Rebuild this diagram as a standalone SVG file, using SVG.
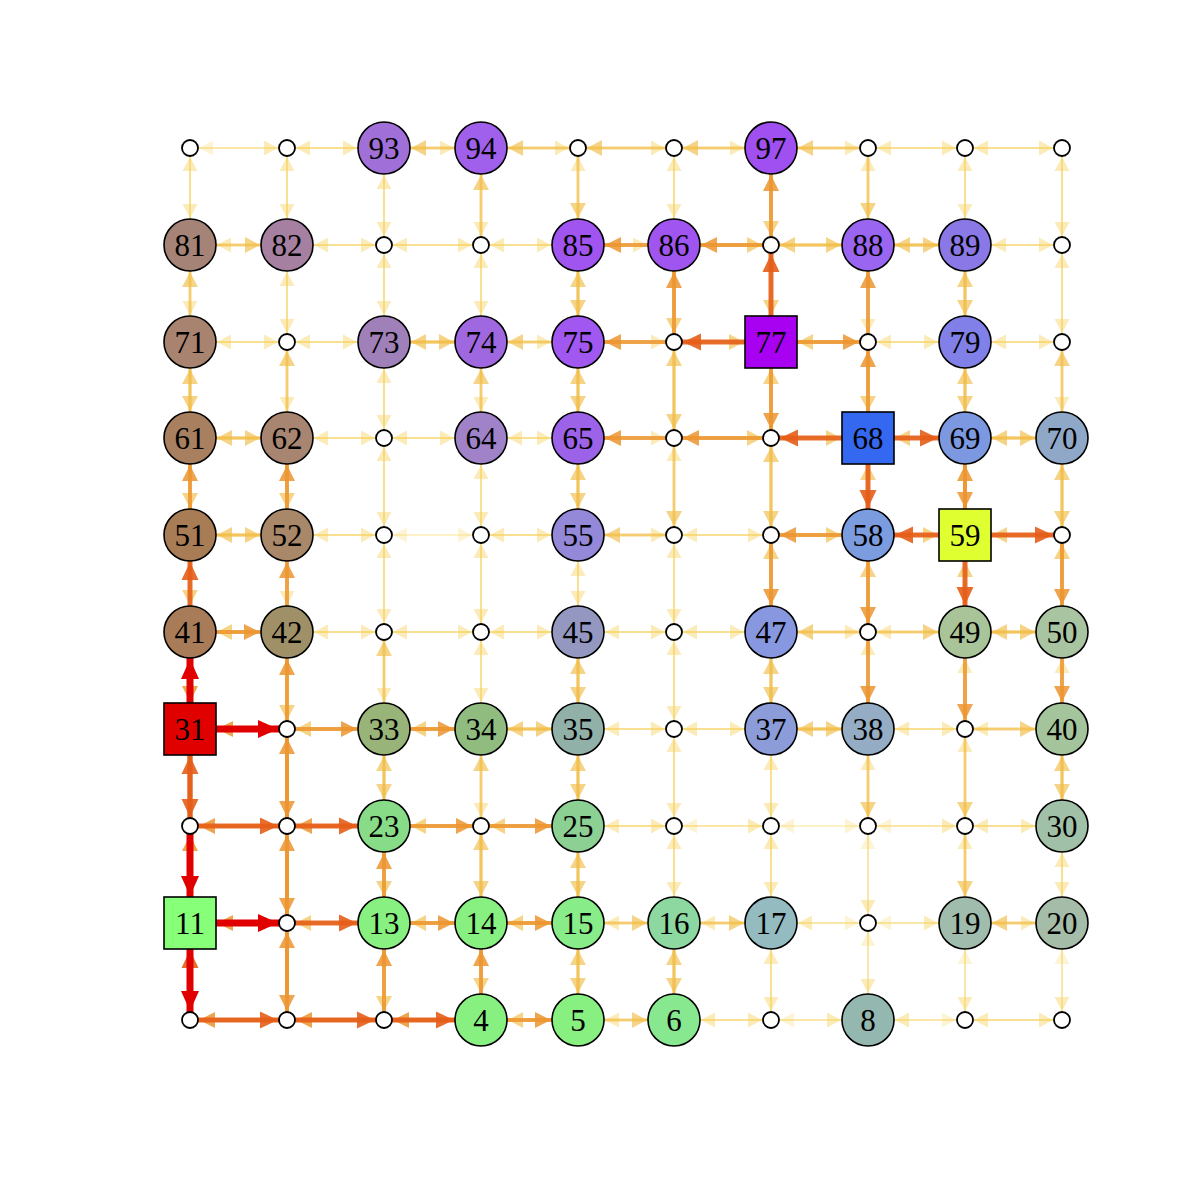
<svg xmlns="http://www.w3.org/2000/svg" width="1196" height="1190" viewBox="0 0 1196 1190">
<style>
path{fill:none}
.e0b,.e0s{stroke:#f8dc74;stroke-opacity:.3;stroke-width:1.5}
.e1b,.e1s{stroke:#f6d262;stroke-opacity:.45;stroke-width:2}
.e2b,.e2s{stroke:#f1bd46;stroke-opacity:.65;stroke-width:3}
.e3b,.e3s{stroke:#ec9530;stroke-opacity:.85;stroke-width:4}
.e4b,.e4s{stroke:#e45e1a;stroke-opacity:.9;stroke-width:5}
.e5b,.e5s{stroke:#e00000;stroke-width:7}
.e0b{marker-end:url(#m0b)}.e0s{marker-end:url(#m0s)}
.e1b{marker-end:url(#m1b)}.e1s{marker-end:url(#m1s)}
.e2b{marker-end:url(#m2b)}.e2s{marker-end:url(#m2s)}
.e3b{marker-end:url(#m3b)}.e3s{marker-end:url(#m3s)}
.e4b{marker-end:url(#m4b)}.e4s{marker-end:url(#m4s)}
.e5b{marker-end:url(#m5b)}.e5s{marker-end:url(#m5s)}
.big{stroke:#000;stroke-width:1.6}
.small{fill:#fff;stroke:#000;stroke-width:1.8}
text{font-family:"Liberation Serif","Times New Roman",serif;font-size:31px;text-anchor:middle;fill:#000}
</style>
<defs>
<marker id="m0b" markerUnits="userSpaceOnUse" orient="auto" refX="27" refY="0" markerWidth="40" markerHeight="40" overflow="visible"><path d="M-14,-7.5L0,0L-14,7.5z" style="fill:#f8dc74;fill-opacity:.3"/></marker>
<marker id="m0s" markerUnits="userSpaceOnUse" orient="auto" refX="9" refY="0" markerWidth="40" markerHeight="40" overflow="visible"><path d="M-14,-7.5L0,0L-14,7.5z" style="fill:#f8dc74;fill-opacity:.3"/></marker>
<marker id="m1b" markerUnits="userSpaceOnUse" orient="auto" refX="27" refY="0" markerWidth="40" markerHeight="40" overflow="visible"><path d="M-14,-7.5L0,0L-14,7.5z" style="fill:#f6d262;fill-opacity:.45"/></marker>
<marker id="m1s" markerUnits="userSpaceOnUse" orient="auto" refX="9" refY="0" markerWidth="40" markerHeight="40" overflow="visible"><path d="M-14,-7.5L0,0L-14,7.5z" style="fill:#f6d262;fill-opacity:.45"/></marker>
<marker id="m2b" markerUnits="userSpaceOnUse" orient="auto" refX="27" refY="0" markerWidth="40" markerHeight="40" overflow="visible"><path d="M-15,-8L0,0L-15,8z" style="fill:#f1bd46;fill-opacity:.65"/></marker>
<marker id="m2s" markerUnits="userSpaceOnUse" orient="auto" refX="9" refY="0" markerWidth="40" markerHeight="40" overflow="visible"><path d="M-15,-8L0,0L-15,8z" style="fill:#f1bd46;fill-opacity:.65"/></marker>
<marker id="m3b" markerUnits="userSpaceOnUse" orient="auto" refX="27" refY="0" markerWidth="40" markerHeight="40" overflow="visible"><path d="M-16,-8L0,0L-16,8z" style="fill:#ec9530;fill-opacity:.85"/></marker>
<marker id="m3s" markerUnits="userSpaceOnUse" orient="auto" refX="9" refY="0" markerWidth="40" markerHeight="40" overflow="visible"><path d="M-16,-8L0,0L-16,8z" style="fill:#ec9530;fill-opacity:.85"/></marker>
<marker id="m4b" markerUnits="userSpaceOnUse" orient="auto" refX="27" refY="0" markerWidth="40" markerHeight="40" overflow="visible"><path d="M-18,-8.5L0,0L-18,8.5z" style="fill:#e45e1a;fill-opacity:.9"/></marker>
<marker id="m4s" markerUnits="userSpaceOnUse" orient="auto" refX="9" refY="0" markerWidth="40" markerHeight="40" overflow="visible"><path d="M-18,-8.5L0,0L-18,8.5z" style="fill:#e45e1a;fill-opacity:.9"/></marker>
<marker id="m5b" markerUnits="userSpaceOnUse" orient="auto" refX="27" refY="0" markerWidth="40" markerHeight="40" overflow="visible"><path d="M-20,-9L0,0L-20,9z" style="fill:#e00000"/></marker>
<marker id="m5s" markerUnits="userSpaceOnUse" orient="auto" refX="9" refY="0" markerWidth="40" markerHeight="40" overflow="visible"><path d="M-20,-9L0,0L-20,9z" style="fill:#e00000"/></marker>
</defs>
<rect width="1196" height="1190" fill="#fff"/>
<g id="connectors">
<path d="M287 1020H190" class="e3s"/><path d="M190 1020H287" class="e4s"/>
<path d="M384 1020H287" class="e3s"/><path d="M287 1020H384" class="e4s"/>
<path d="M481 1020H384" class="e3s"/><path d="M384 1020H481" class="e4b"/>
<path d="M578 1020H481" class="e2b"/><path d="M481 1020H578" class="e3b"/>
<path d="M674 1020H578" class="e1b"/><path d="M578 1020H674" class="e2b"/>
<path d="M771 1020H674" class="e1b"/><path d="M674 1020H771" class="e1s"/>
<path d="M868 1020H771" class="e0s"/><path d="M771 1020H868" class="e1b"/>
<path d="M868 1020H965" class="e0s"/><path d="M965 1020H868" class="e1b"/>
<path d="M965 1020H1062" class="e1s"/><path d="M1062 1020H965" class="e1s"/>
<path d="M287 923H190" class="e3b"/><path d="M190 923H287" class="e5s"/>
<path d="M384 923H287" class="e2s"/><path d="M287 923H384" class="e4b"/>
<path d="M481 923H384" class="e2b"/><path d="M384 923H481" class="e3b"/>
<path d="M578 923H481" class="e2b"/><path d="M481 923H578" class="e3b"/>
<path d="M674 923H578" class="e1b"/><path d="M578 923H674" class="e2b"/>
<path d="M771 923H674" class="e1b"/><path d="M674 923H771" class="e2b"/>
<path d="M771 923H868" class="e0s"/><path d="M868 923H771" class="e1b"/>
<path d="M965 923H868" class="e0s"/><path d="M868 923H965" class="e1b"/>
<path d="M965 923H1062" class="e1b"/><path d="M1062 923H965" class="e2b"/>
<path d="M287 826H190" class="e3s"/><path d="M190 826H287" class="e4s"/>
<path d="M384 826H287" class="e3s"/><path d="M287 826H384" class="e4b"/>
<path d="M481 826H384" class="e2b"/><path d="M384 826H481" class="e3s"/>
<path d="M578 826H481" class="e2s"/><path d="M481 826H578" class="e3b"/>
<path d="M674 826H578" class="e1b"/><path d="M578 826H674" class="e1s"/>
<path d="M771 826H674" class="e0s"/><path d="M674 826H771" class="e1s"/>
<path d="M771 826H868" class="e0s"/><path d="M868 826H771" class="e0s"/>
<path d="M965 826H868" class="e0s"/><path d="M868 826H965" class="e1s"/>
<path d="M1062 826H965" class="e1s"/><path d="M965 826H1062" class="e1b"/>
<path d="M287 729H190" class="e3b"/><path d="M190 729H287" class="e5s"/>
<path d="M384 729H287" class="e2s"/><path d="M287 729H384" class="e3b"/>
<path d="M481 729H384" class="e2b"/><path d="M384 729H481" class="e3b"/>
<path d="M578 729H481" class="e2b"/><path d="M481 729H578" class="e2b"/>
<path d="M674 729H578" class="e1b"/><path d="M578 729H674" class="e1s"/>
<path d="M771 729H674" class="e1s"/><path d="M674 729H771" class="e1b"/>
<path d="M868 729H771" class="e2b"/><path d="M771 729H868" class="e2b"/>
<path d="M965 729H868" class="e1b"/><path d="M868 729H965" class="e1s"/>
<path d="M1062 729H965" class="e1s"/><path d="M965 729H1062" class="e2b"/>
<path d="M287 632H190" class="e2b"/><path d="M190 632H287" class="e3b"/>
<path d="M384 632H287" class="e1b"/><path d="M287 632H384" class="e1s"/>
<path d="M481 632H384" class="e1s"/><path d="M384 632H481" class="e1s"/>
<path d="M578 632H481" class="e1s"/><path d="M481 632H578" class="e1b"/>
<path d="M674 632H578" class="e1b"/><path d="M578 632H674" class="e1s"/>
<path d="M771 632H674" class="e1s"/><path d="M674 632H771" class="e1b"/>
<path d="M771 632H868" class="e1s"/><path d="M868 632H771" class="e2b"/>
<path d="M965 632H868" class="e1s"/><path d="M868 632H965" class="e2b"/>
<path d="M1062 632H965" class="e2b"/><path d="M965 632H1062" class="e2b"/>
<path d="M287 535H190" class="e2b"/><path d="M190 535H287" class="e2b"/>
<path d="M384 535H287" class="e1b"/><path d="M287 535H384" class="e1s"/>
<path d="M384 535H481" class="e0s"/><path d="M481 535H384" class="e0s"/>
<path d="M578 535H481" class="e1s"/><path d="M481 535H578" class="e1b"/>
<path d="M578 535H674" class="e1s"/><path d="M674 535H578" class="e2b"/>
<path d="M674 535H771" class="e1s"/><path d="M771 535H674" class="e1s"/>
<path d="M771 535H868" class="e2b"/><path d="M868 535H771" class="e3s"/>
<path d="M868 535H965" class="e2b"/><path d="M965 535H868" class="e4b"/>
<path d="M1062 535H965" class="e2b"/><path d="M965 535H1062" class="e4s"/>
<path d="M287 438H190" class="e2b"/><path d="M190 438H287" class="e2b"/>
<path d="M384 438H287" class="e1b"/><path d="M287 438H384" class="e1s"/>
<path d="M481 438H384" class="e1s"/><path d="M384 438H481" class="e1b"/>
<path d="M578 438H481" class="e1b"/><path d="M481 438H578" class="e1b"/>
<path d="M578 438H674" class="e1s"/><path d="M674 438H578" class="e3b"/>
<path d="M674 438H771" class="e2s"/><path d="M771 438H674" class="e3s"/>
<path d="M771 438H868" class="e2b"/><path d="M868 438H771" class="e4s"/>
<path d="M965 438H868" class="e2b"/><path d="M868 438H965" class="e4b"/>
<path d="M1062 438H965" class="e2b"/><path d="M965 438H1062" class="e2b"/>
<path d="M287 342H190" class="e1b"/><path d="M190 342H287" class="e1s"/>
<path d="M384 342H287" class="e1s"/><path d="M287 342H384" class="e1b"/>
<path d="M481 342H384" class="e2b"/><path d="M384 342H481" class="e2b"/>
<path d="M481 342H578" class="e1b"/><path d="M578 342H481" class="e2b"/>
<path d="M578 342H674" class="e1s"/><path d="M674 342H578" class="e3b"/>
<path d="M674 342H771" class="e2b"/><path d="M771 342H674" class="e4s"/>
<path d="M868 342H771" class="e2b"/><path d="M771 342H868" class="e3s"/>
<path d="M965 342H868" class="e1s"/><path d="M868 342H965" class="e1b"/>
<path d="M1062 342H965" class="e1b"/><path d="M965 342H1062" class="e1s"/>
<path d="M287 245H190" class="e1b"/><path d="M190 245H287" class="e2b"/>
<path d="M384 245H287" class="e1b"/><path d="M287 245H384" class="e1s"/>
<path d="M384 245H481" class="e1s"/><path d="M481 245H384" class="e1s"/>
<path d="M578 245H481" class="e1s"/><path d="M481 245H578" class="e1b"/>
<path d="M578 245H674" class="e1b"/><path d="M674 245H578" class="e3b"/>
<path d="M674 245H771" class="e2s"/><path d="M771 245H674" class="e3b"/>
<path d="M868 245H771" class="e2s"/><path d="M771 245H868" class="e2b"/>
<path d="M965 245H868" class="e2b"/><path d="M868 245H965" class="e2b"/>
<path d="M1062 245H965" class="e1b"/><path d="M965 245H1062" class="e1s"/>
<path d="M287 148H190" class="e0s"/><path d="M190 148H287" class="e1s"/>
<path d="M384 148H287" class="e1s"/><path d="M287 148H384" class="e1b"/>
<path d="M384 148H481" class="e1b"/><path d="M481 148H384" class="e2b"/>
<path d="M481 148H578" class="e1s"/><path d="M578 148H481" class="e2b"/>
<path d="M578 148H674" class="e1s"/><path d="M674 148H578" class="e2s"/>
<path d="M674 148H771" class="e1b"/><path d="M771 148H674" class="e2s"/>
<path d="M771 148H868" class="e1s"/><path d="M868 148H771" class="e2b"/>
<path d="M965 148H868" class="e1s"/><path d="M868 148H965" class="e1s"/>
<path d="M1062 148H965" class="e1s"/><path d="M965 148H1062" class="e1s"/>
<path d="M190 1020V923" class="e4b"/><path d="M190 923V1020" class="e5s"/>
<path d="M190 923V826" class="e3s"/><path d="M190 826V923" class="e5b"/>
<path d="M190 826V729" class="e4b"/><path d="M190 729V826" class="e4s"/>
<path d="M190 632V729" class="e3b"/><path d="M190 729V632" class="e5b"/>
<path d="M190 535V632" class="e2b"/><path d="M190 632V535" class="e4b"/>
<path d="M190 438V535" class="e2b"/><path d="M190 535V438" class="e3b"/>
<path d="M190 342V438" class="e2b"/><path d="M190 438V342" class="e2b"/>
<path d="M190 245V342" class="e1b"/><path d="M190 342V245" class="e2b"/>
<path d="M190 148V245" class="e1b"/><path d="M190 245V148" class="e1s"/>
<path d="M287 923V1020" class="e3s"/><path d="M287 1020V923" class="e3s"/>
<path d="M287 826V923" class="e3s"/><path d="M287 923V826" class="e3s"/>
<path d="M287 729V826" class="e3s"/><path d="M287 826V729" class="e3s"/>
<path d="M287 632V729" class="e2s"/><path d="M287 729V632" class="e3b"/>
<path d="M287 535V632" class="e1b"/><path d="M287 632V535" class="e3b"/>
<path d="M287 438V535" class="e2b"/><path d="M287 535V438" class="e3b"/>
<path d="M287 342V438" class="e1b"/><path d="M287 438V342" class="e2s"/>
<path d="M287 245V342" class="e1s"/><path d="M287 342V245" class="e1b"/>
<path d="M287 148V245" class="e1b"/><path d="M287 245V148" class="e1s"/>
<path d="M384 923V1020" class="e2s"/><path d="M384 1020V923" class="e3b"/>
<path d="M384 826V923" class="e2b"/><path d="M384 923V826" class="e3b"/>
<path d="M384 729V826" class="e2b"/><path d="M384 826V729" class="e2b"/>
<path d="M384 632V729" class="e1b"/><path d="M384 729V632" class="e2s"/>
<path d="M384 535V632" class="e1s"/><path d="M384 632V535" class="e1s"/>
<path d="M384 438V535" class="e1s"/><path d="M384 535V438" class="e1s"/>
<path d="M384 342V438" class="e1s"/><path d="M384 438V342" class="e1b"/>
<path d="M384 245V342" class="e1b"/><path d="M384 342V245" class="e1s"/>
<path d="M384 148V245" class="e1s"/><path d="M384 245V148" class="e1b"/>
<path d="M481 923V1020" class="e2b"/><path d="M481 1020V923" class="e3b"/>
<path d="M481 826V923" class="e2b"/><path d="M481 923V826" class="e2s"/>
<path d="M481 729V826" class="e1s"/><path d="M481 826V729" class="e2b"/>
<path d="M481 632V729" class="e1b"/><path d="M481 729V632" class="e1s"/>
<path d="M481 535V632" class="e1s"/><path d="M481 632V535" class="e1s"/>
<path d="M481 438V535" class="e1s"/><path d="M481 535V438" class="e1b"/>
<path d="M481 342V438" class="e1b"/><path d="M481 438V342" class="e2b"/>
<path d="M481 245V342" class="e1b"/><path d="M481 342V245" class="e1s"/>
<path d="M481 148V245" class="e1s"/><path d="M481 245V148" class="e2b"/>
<path d="M578 923V1020" class="e2b"/><path d="M578 1020V923" class="e2b"/>
<path d="M578 826V923" class="e2b"/><path d="M578 923V826" class="e2b"/>
<path d="M578 729V826" class="e2b"/><path d="M578 826V729" class="e2b"/>
<path d="M578 632V729" class="e2b"/><path d="M578 729V632" class="e2b"/>
<path d="M578 535V632" class="e1b"/><path d="M578 632V535" class="e1b"/>
<path d="M578 438V535" class="e2b"/><path d="M578 535V438" class="e2b"/>
<path d="M578 342V438" class="e2b"/><path d="M578 438V342" class="e2b"/>
<path d="M578 245V342" class="e2b"/><path d="M578 342V245" class="e2b"/>
<path d="M578 245V148" class="e1s"/><path d="M578 148V245" class="e2b"/>
<path d="M674 923V1020" class="e2b"/><path d="M674 1020V923" class="e2b"/>
<path d="M674 826V923" class="e1b"/><path d="M674 923V826" class="e1s"/>
<path d="M674 729V826" class="e1s"/><path d="M674 826V729" class="e1s"/>
<path d="M674 632V729" class="e1s"/><path d="M674 729V632" class="e1s"/>
<path d="M674 535V632" class="e1s"/><path d="M674 632V535" class="e1s"/>
<path d="M674 535V438" class="e1s"/><path d="M674 438V535" class="e2s"/>
<path d="M674 342V438" class="e2s"/><path d="M674 438V342" class="e2s"/>
<path d="M674 245V342" class="e2s"/><path d="M674 342V245" class="e3b"/>
<path d="M674 148V245" class="e1b"/><path d="M674 245V148" class="e1s"/>
<path d="M771 923V1020" class="e1s"/><path d="M771 1020V923" class="e1b"/>
<path d="M771 826V923" class="e1b"/><path d="M771 923V826" class="e1s"/>
<path d="M771 729V826" class="e1s"/><path d="M771 826V729" class="e1b"/>
<path d="M771 632V729" class="e2b"/><path d="M771 729V632" class="e2b"/>
<path d="M771 632V535" class="e2s"/><path d="M771 535V632" class="e3b"/>
<path d="M771 438V535" class="e2s"/><path d="M771 535V438" class="e2s"/>
<path d="M771 438V342" class="e2b"/><path d="M771 342V438" class="e3s"/>
<path d="M771 245V342" class="e2b"/><path d="M771 342V245" class="e4s"/>
<path d="M771 148V245" class="e2s"/><path d="M771 245V148" class="e3b"/>
<path d="M868 1020V923" class="e0s"/><path d="M868 923V1020" class="e1b"/>
<path d="M868 923V826" class="e0s"/><path d="M868 826V923" class="e1s"/>
<path d="M868 826V729" class="e1b"/><path d="M868 729V826" class="e2s"/>
<path d="M868 729V632" class="e1s"/><path d="M868 632V729" class="e3b"/>
<path d="M868 632V535" class="e2b"/><path d="M868 535V632" class="e3s"/>
<path d="M868 535V438" class="e2b"/><path d="M868 438V535" class="e4b"/>
<path d="M868 342V438" class="e2b"/><path d="M868 438V342" class="e3s"/>
<path d="M868 245V342" class="e1s"/><path d="M868 342V245" class="e3b"/>
<path d="M868 245V148" class="e1s"/><path d="M868 148V245" class="e2b"/>
<path d="M965 1020V923" class="e0b"/><path d="M965 923V1020" class="e1s"/>
<path d="M965 923V826" class="e1s"/><path d="M965 826V923" class="e2b"/>
<path d="M965 826V729" class="e1s"/><path d="M965 729V826" class="e2s"/>
<path d="M965 729V632" class="e1b"/><path d="M965 632V729" class="e3s"/>
<path d="M965 632V535" class="e2b"/><path d="M965 535V632" class="e4b"/>
<path d="M965 535V438" class="e3b"/><path d="M965 438V535" class="e3b"/>
<path d="M965 438V342" class="e2b"/><path d="M965 342V438" class="e2b"/>
<path d="M965 342V245" class="e2b"/><path d="M965 245V342" class="e2b"/>
<path d="M965 245V148" class="e1s"/><path d="M965 148V245" class="e1b"/>
<path d="M1062 1020V923" class="e0b"/><path d="M1062 923V1020" class="e1s"/>
<path d="M1062 923V826" class="e1b"/><path d="M1062 826V923" class="e1b"/>
<path d="M1062 826V729" class="e2b"/><path d="M1062 729V826" class="e2b"/>
<path d="M1062 729V632" class="e1b"/><path d="M1062 632V729" class="e3b"/>
<path d="M1062 632V535" class="e2s"/><path d="M1062 535V632" class="e3b"/>
<path d="M1062 535V438" class="e2b"/><path d="M1062 438V535" class="e2s"/>
<path d="M1062 342V438" class="e1b"/><path d="M1062 438V342" class="e2s"/>
<path d="M1062 342V245" class="e1s"/><path d="M1062 245V342" class="e1s"/>
<path d="M1062 245V148" class="e1s"/><path d="M1062 148V245" class="e1s"/>
</g>
<g id="n1"><circle cx="190" cy="1020" r="8" class="small"/></g>
<g id="n2"><circle cx="287" cy="1020" r="8" class="small"/></g>
<g id="n3"><circle cx="384" cy="1020" r="8" class="small"/></g>
<g id="n4"><circle cx="481" cy="1020" r="26" class="big" fill="#88f080"/><text x="481" y="1031">4</text></g>
<g id="n5"><circle cx="578" cy="1020" r="26" class="big" fill="#88f080"/><text x="578" y="1031">5</text></g>
<g id="n6"><circle cx="674" cy="1020" r="26" class="big" fill="#88e890"/><text x="674" y="1031">6</text></g>
<g id="n7"><circle cx="771" cy="1020" r="8" class="small"/></g>
<g id="n8"><circle cx="868" cy="1020" r="26" class="big" fill="#94b8b0"/><text x="868" y="1031">8</text></g>
<g id="n9"><circle cx="965" cy="1020" r="8" class="small"/></g>
<g id="n10"><circle cx="1062" cy="1020" r="8" class="small"/></g>
<g id="n11"><rect x="164" y="897" width="52" height="52" class="big" fill="#88ff78"/><text x="190" y="934">11</text></g>
<g id="n12"><circle cx="287" cy="923" r="8" class="small"/></g>
<g id="n13"><circle cx="384" cy="923" r="26" class="big" fill="#88f080"/><text x="384" y="934">13</text></g>
<g id="n14"><circle cx="481" cy="923" r="26" class="big" fill="#88f080"/><text x="481" y="934">14</text></g>
<g id="n15"><circle cx="578" cy="923" r="26" class="big" fill="#88ec88"/><text x="578" y="934">15</text></g>
<g id="n16"><circle cx="674" cy="923" r="26" class="big" fill="#8cd8a0"/><text x="674" y="934">16</text></g>
<g id="n17"><circle cx="771" cy="923" r="26" class="big" fill="#94bcc0"/><text x="771" y="934">17</text></g>
<g id="n18"><circle cx="868" cy="923" r="8" class="small"/></g>
<g id="n19"><circle cx="965" cy="923" r="26" class="big" fill="#a0bcac"/><text x="965" y="934">19</text></g>
<g id="n20"><circle cx="1062" cy="923" r="26" class="big" fill="#a4bca8"/><text x="1062" y="934">20</text></g>
<g id="n21"><circle cx="190" cy="826" r="8" class="small"/></g>
<g id="n22"><circle cx="287" cy="826" r="8" class="small"/></g>
<g id="n23"><circle cx="384" cy="826" r="26" class="big" fill="#88dc88"/><text x="384" y="837">23</text></g>
<g id="n24"><circle cx="481" cy="826" r="8" class="small"/></g>
<g id="n25"><circle cx="578" cy="826" r="26" class="big" fill="#8cd094"/><text x="578" y="837">25</text></g>
<g id="n26"><circle cx="674" cy="826" r="8" class="small"/></g>
<g id="n27"><circle cx="771" cy="826" r="8" class="small"/></g>
<g id="n28"><circle cx="868" cy="826" r="8" class="small"/></g>
<g id="n29"><circle cx="965" cy="826" r="8" class="small"/></g>
<g id="n30"><circle cx="1062" cy="826" r="26" class="big" fill="#a0c0a8"/><text x="1062" y="837">30</text></g>
<g id="n31"><rect x="164" y="703" width="52" height="52" class="big" fill="#e00000"/><text x="190" y="740">31</text></g>
<g id="n32"><circle cx="287" cy="729" r="8" class="small"/></g>
<g id="n33"><circle cx="384" cy="729" r="26" class="big" fill="#98b478"/><text x="384" y="740">33</text></g>
<g id="n34"><circle cx="481" cy="729" r="26" class="big" fill="#90bc80"/><text x="481" y="740">34</text></g>
<g id="n35"><circle cx="578" cy="729" r="26" class="big" fill="#90b0a8"/><text x="578" y="740">35</text></g>
<g id="n36"><circle cx="674" cy="729" r="8" class="small"/></g>
<g id="n37"><circle cx="771" cy="729" r="26" class="big" fill="#8c9cd8"/><text x="771" y="740">37</text></g>
<g id="n38"><circle cx="868" cy="729" r="26" class="big" fill="#94acc4"/><text x="868" y="740">38</text></g>
<g id="n39"><circle cx="965" cy="729" r="8" class="small"/></g>
<g id="n40"><circle cx="1062" cy="729" r="26" class="big" fill="#a4c49c"/><text x="1062" y="740">40</text></g>
<g id="n41"><circle cx="190" cy="632" r="26" class="big" fill="#a87c58"/><text x="190" y="643">41</text></g>
<g id="n42"><circle cx="287" cy="632" r="26" class="big" fill="#a09068"/><text x="287" y="643">42</text></g>
<g id="n43"><circle cx="384" cy="632" r="8" class="small"/></g>
<g id="n44"><circle cx="481" cy="632" r="8" class="small"/></g>
<g id="n45"><circle cx="578" cy="632" r="26" class="big" fill="#9498c0"/><text x="578" y="643">45</text></g>
<g id="n46"><circle cx="674" cy="632" r="8" class="small"/></g>
<g id="n47"><circle cx="771" cy="632" r="26" class="big" fill="#8898e0"/><text x="771" y="643">47</text></g>
<g id="n48"><circle cx="868" cy="632" r="8" class="small"/></g>
<g id="n49"><circle cx="965" cy="632" r="26" class="big" fill="#a8c498"/><text x="965" y="643">49</text></g>
<g id="n50"><circle cx="1062" cy="632" r="26" class="big" fill="#a8c4a0"/><text x="1062" y="643">50</text></g>
<g id="n51"><circle cx="190" cy="535" r="26" class="big" fill="#a87c55"/><text x="190" y="546">51</text></g>
<g id="n52"><circle cx="287" cy="535" r="26" class="big" fill="#a88868"/><text x="287" y="546">52</text></g>
<g id="n53"><circle cx="384" cy="535" r="8" class="small"/></g>
<g id="n54"><circle cx="481" cy="535" r="8" class="small"/></g>
<g id="n55"><circle cx="578" cy="535" r="26" class="big" fill="#9488d8"/><text x="578" y="546">55</text></g>
<g id="n56"><circle cx="674" cy="535" r="8" class="small"/></g>
<g id="n57"><circle cx="771" cy="535" r="8" class="small"/></g>
<g id="n58"><circle cx="868" cy="535" r="26" class="big" fill="#7c9ce0"/><text x="868" y="546">58</text></g>
<g id="n59"><rect x="939" y="509" width="52" height="52" class="big" fill="#e0ff30"/><text x="965" y="546">59</text></g>
<g id="n60"><circle cx="1062" cy="535" r="8" class="small"/></g>
<g id="n61"><circle cx="190" cy="438" r="26" class="big" fill="#a88060"/><text x="190" y="449">61</text></g>
<g id="n62"><circle cx="287" cy="438" r="26" class="big" fill="#a88570"/><text x="287" y="449">62</text></g>
<g id="n63"><circle cx="384" cy="438" r="8" class="small"/></g>
<g id="n64"><circle cx="481" cy="438" r="26" class="big" fill="#9f82c8"/><text x="481" y="449">64</text></g>
<g id="n65"><circle cx="578" cy="438" r="26" class="big" fill="#9c62e8"/><text x="578" y="449">65</text></g>
<g id="n66"><circle cx="674" cy="438" r="8" class="small"/></g>
<g id="n67"><circle cx="771" cy="438" r="8" class="small"/></g>
<g id="n68"><rect x="842" y="412" width="52" height="52" class="big" fill="#3568f0"/><text x="868" y="449">68</text></g>
<g id="n69"><circle cx="965" cy="438" r="26" class="big" fill="#7c98e0"/><text x="965" y="449">69</text></g>
<g id="n70"><circle cx="1062" cy="438" r="26" class="big" fill="#90a8c8"/><text x="1062" y="449">70</text></g>
<g id="n71"><circle cx="190" cy="342" r="26" class="big" fill="#a88470"/><text x="190" y="353">71</text></g>
<g id="n72"><circle cx="287" cy="342" r="8" class="small"/></g>
<g id="n73"><circle cx="384" cy="342" r="26" class="big" fill="#a080b8"/><text x="384" y="353">73</text></g>
<g id="n74"><circle cx="481" cy="342" r="26" class="big" fill="#a068e0"/><text x="481" y="353">74</text></g>
<g id="n75"><circle cx="578" cy="342" r="26" class="big" fill="#a058f0"/><text x="578" y="353">75</text></g>
<g id="n76"><circle cx="674" cy="342" r="8" class="small"/></g>
<g id="n77"><rect x="745" y="316" width="52" height="52" class="big" fill="#a800f0"/><text x="771" y="353">77</text></g>
<g id="n78"><circle cx="868" cy="342" r="8" class="small"/></g>
<g id="n79"><circle cx="965" cy="342" r="26" class="big" fill="#8080e8"/><text x="965" y="353">79</text></g>
<g id="n80"><circle cx="1062" cy="342" r="8" class="small"/></g>
<g id="n81"><circle cx="190" cy="245" r="26" class="big" fill="#a58477"/><text x="190" y="256">81</text></g>
<g id="n82"><circle cx="287" cy="245" r="26" class="big" fill="#a680a0"/><text x="287" y="256">82</text></g>
<g id="n83"><circle cx="384" cy="245" r="8" class="small"/></g>
<g id="n84"><circle cx="481" cy="245" r="8" class="small"/></g>
<g id="n85"><circle cx="578" cy="245" r="26" class="big" fill="#a055f0"/><text x="578" y="256">85</text></g>
<g id="n86"><circle cx="674" cy="245" r="26" class="big" fill="#a055f0"/><text x="674" y="256">86</text></g>
<g id="n87"><circle cx="771" cy="245" r="8" class="small"/></g>
<g id="n88"><circle cx="868" cy="245" r="26" class="big" fill="#9a65f0"/><text x="868" y="256">88</text></g>
<g id="n89"><circle cx="965" cy="245" r="26" class="big" fill="#8a78e6"/><text x="965" y="256">89</text></g>
<g id="n90"><circle cx="1062" cy="245" r="8" class="small"/></g>
<g id="n91"><circle cx="190" cy="148" r="8" class="small"/></g>
<g id="n92"><circle cx="287" cy="148" r="8" class="small"/></g>
<g id="n93"><circle cx="384" cy="148" r="26" class="big" fill="#a070d8"/><text x="384" y="159">93</text></g>
<g id="n94"><circle cx="481" cy="148" r="26" class="big" fill="#a060ec"/><text x="481" y="159">94</text></g>
<g id="n95"><circle cx="578" cy="148" r="8" class="small"/></g>
<g id="n96"><circle cx="674" cy="148" r="8" class="small"/></g>
<g id="n97"><circle cx="771" cy="148" r="26" class="big" fill="#a050f0"/><text x="771" y="159">97</text></g>
<g id="n98"><circle cx="868" cy="148" r="8" class="small"/></g>
<g id="n99"><circle cx="965" cy="148" r="8" class="small"/></g>
<g id="n100"><circle cx="1062" cy="148" r="8" class="small"/></g>
</svg>
